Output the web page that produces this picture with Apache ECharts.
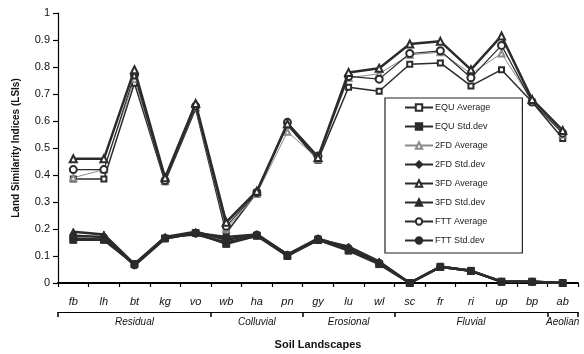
<!DOCTYPE html>
<html>
<head>
<meta charset="utf-8">
<script src="https://cdn.jsdelivr.net/npm/echarts@6/dist/echarts.min.js"></script>
<style>
  html, body { margin: 0; padding: 0; background: #fff; }
  #chart { width: 584px; height: 354px; }
</style>
</head>
<body>
<div id="chart"></div>
<script>
// Soil landscape codes along the x axis
const categories = ['fb', 'lh', 'bt', 'kg', 'vo', 'wb', 'ha', 'pn', 'gy', 'lu', 'wl', 'sc', 'fr', 'ri', 'up', 'bp', 'ab'];

// Landscape groups and how many codes each spans
const groupNames = ['Residual', 'Colluvial', 'Erosional', 'Fluvial', 'Aeolian'];
const groupSizes = [5, 3, 3, 5, 1];

// Land similarity indices per method
const equAverage   = [0.385, 0.385, 0.74, 0.375, 0.645, 0.185, 0.335, 0.585, 0.455, 0.725, 0.71, 0.81, 0.815, 0.73, 0.79, 0.67, 0.535];
const equStdDev    = [0.16, 0.16, 0.07, 0.165, 0.185, 0.145, 0.175, 0.10, 0.16, 0.12, 0.07, 0.0, 0.06, 0.045, 0.005, 0.005, 0.0];
const fd2Average   = [0.39, 0.42, 0.755, 0.38, 0.65, 0.20, 0.33, 0.56, 0.46, 0.76, 0.775, 0.845, 0.855, 0.775, 0.85, 0.675, 0.55];
const fd2StdDev    = [0.165, 0.16, 0.07, 0.17, 0.18, 0.15, 0.175, 0.105, 0.16, 0.125, 0.075, 0.0, 0.06, 0.045, 0.005, 0.005, 0.0];
const fd3Average   = [0.46, 0.46, 0.79, 0.39, 0.665, 0.225, 0.34, 0.59, 0.465, 0.78, 0.795, 0.885, 0.895, 0.79, 0.915, 0.68, 0.565];
const fd3StdDev    = [0.19, 0.18, 0.07, 0.17, 0.19, 0.16, 0.18, 0.105, 0.16, 0.135, 0.08, 0.0, 0.06, 0.045, 0.005, 0.005, 0.0];
const fttAverage   = [0.42, 0.42, 0.77, 0.38, 0.655, 0.21, 0.335, 0.595, 0.47, 0.765, 0.755, 0.85, 0.86, 0.76, 0.88, 0.67, 0.555];
const fttStdDev    = [0.175, 0.17, 0.065, 0.165, 0.185, 0.17, 0.18, 0.105, 0.165, 0.13, 0.075, 0.0, 0.06, 0.045, 0.005, 0.005, 0.0];

// Y axis ticks
const yMin = 0, yMax = 1, yStep = 0.1;

// Group boundaries and centres on a 0..n scale matching the category bands
const groupEdges = [0];
const groupCentres = [];
groupSizes.forEach(function (n, i) {
  const start = groupEdges[i];
  groupCentres.push(start + n / 2);
  groupEdges.push(start + n);
});

const DARK = '#2b2b2b';
const GREY = '#8a8a8a';
const FONT = '"Liberation Sans", Arial, sans-serif';

function makeSeries(name, data, opts) {
  return {
    name: name,
    type: 'line',
    data: data,
    symbol: opts.symbol,
    symbolSize: opts.size,
    showAllSymbol: true,
    lineStyle: { color: opts.color, width: opts.width },
    itemStyle: { color: opts.color, borderColor: opts.color, borderWidth: opts.border || 1 },
    emphasis: { disabled: true },
    z: opts.z || 2
  };
}

const series = [
  makeSeries('EQU Average', equAverage, { symbol: 'emptyRect', size: 5, color: DARK, width: 1.5, border: 1.2 }),
  makeSeries('EQU Std.dev', equStdDev, { symbol: 'rect', size: 7, color: DARK, width: 2.5 }),
  makeSeries('2FD Average', fd2Average, { symbol: 'emptyTriangle', size: 6, color: GREY, width: 1, border: 1 }),
  makeSeries('2FD Std.dev', fd2StdDev, { symbol: 'diamond', size: 7, color: DARK, width: 2.5 }),
  makeSeries('3FD Average', fd3Average, { symbol: 'emptyTriangle', size: 7, color: DARK, width: 2.5, border: 1.5, z: 3 }),
  makeSeries('3FD Std.dev', fd3StdDev, { symbol: 'triangle', size: 7, color: DARK, width: 2.5 }),
  makeSeries('FTT Average', fttAverage, { symbol: 'emptyCircle', size: 7, color: DARK, width: 1.2, border: 2 }),
  makeSeries('FTT Std.dev', fttStdDev, { symbol: 'circle', size: 7, color: DARK, width: 2.5 })
];

const chart = echarts.init(document.getElementById('chart'), null, { renderer: 'canvas' });
chart.setOption({
  animation: false,
  backgroundColor: '#ffffff',
  textStyle: { fontFamily: FONT },
  grid: { left: 58, right: 6, top: 13, bottom: 71, containLabel: false, outerBoundsMode: 'none' },
  legend: {
    orient: 'vertical',
    left: 385,
    top: 98,
    padding: [5, 32, 8, 19],
    itemGap: 10,
    itemWidth: 28,
    itemHeight: 8,
    borderColor: '#222',
    borderWidth: 1.2,
    backgroundColor: '#fff',
    textStyle: { fontFamily: FONT, fontSize: 9, color: '#222', padding: [0, 0, 0, -3] },
    data: series.map(function (s) { return s.name; })
  },
  xAxis: [
    {
      type: 'category',
      data: categories,
      boundaryGap: true,
      position: 'bottom',
      axisLine: { show: true, onZero: false, lineStyle: { color: '#000', width: 2 } },
      axisTick: { show: true, inside: false, length: 4, lineStyle: { color: '#000', width: 1.2 } },
      axisLabel: { margin: 13, fontSize: 11, fontStyle: 'italic', color: '#111', fontFamily: FONT },
      splitLine: { show: false }
    },
    {
      type: 'value',
      min: 0,
      max: categories.length,
      position: 'bottom',
      offset: 29,
      name: 'Soil Landscapes',
      nameLocation: 'middle',
      nameGap: 27,
      nameTextStyle: { fontSize: 11, fontWeight: 'bold', color: '#111', fontFamily: FONT },
      axisLine: { show: true, onZero: false, lineStyle: { color: '#000', width: 1.2 } },
      axisTick: { show: true, length: 5, customValues: groupEdges, lineStyle: { color: '#000', width: 1.5 } },
      axisLabel: {
        show: true,
        margin: 5,
        fontSize: 10,
        fontStyle: 'italic',
        color: '#111',
        fontFamily: FONT,
        customValues: groupCentres,
        formatter: function (v) {
          const i = groupCentres.indexOf(v);
          return i >= 0 ? groupNames[i] : '';
        }
      },
      splitLine: { show: false }
    }
  ],
  yAxis: {
    type: 'value',
    min: yMin,
    max: yMax,
    interval: yStep,
    name: 'Land Similarity Indices (LSIs)',
    nameLocation: 'middle',
    nameGap: 37,
    nameRotate: 90,
    nameTextStyle: { fontSize: 10, fontWeight: 'bold', color: '#111', fontFamily: FONT },
    axisLine: { show: true, lineStyle: { color: '#000', width: 1.2 } },
    axisTick: { show: true, inside: false, length: 5, lineStyle: { color: '#000', width: 1.2 } },
    axisLabel: {
      margin: 8,
      fontSize: 11,
      color: '#111',
      fontFamily: FONT,
      formatter: function (v) { return String(Math.round(v * 10) / 10); }
    },
    splitLine: { show: false }
  },
  series: series
});
</script>
</body>
</html>
